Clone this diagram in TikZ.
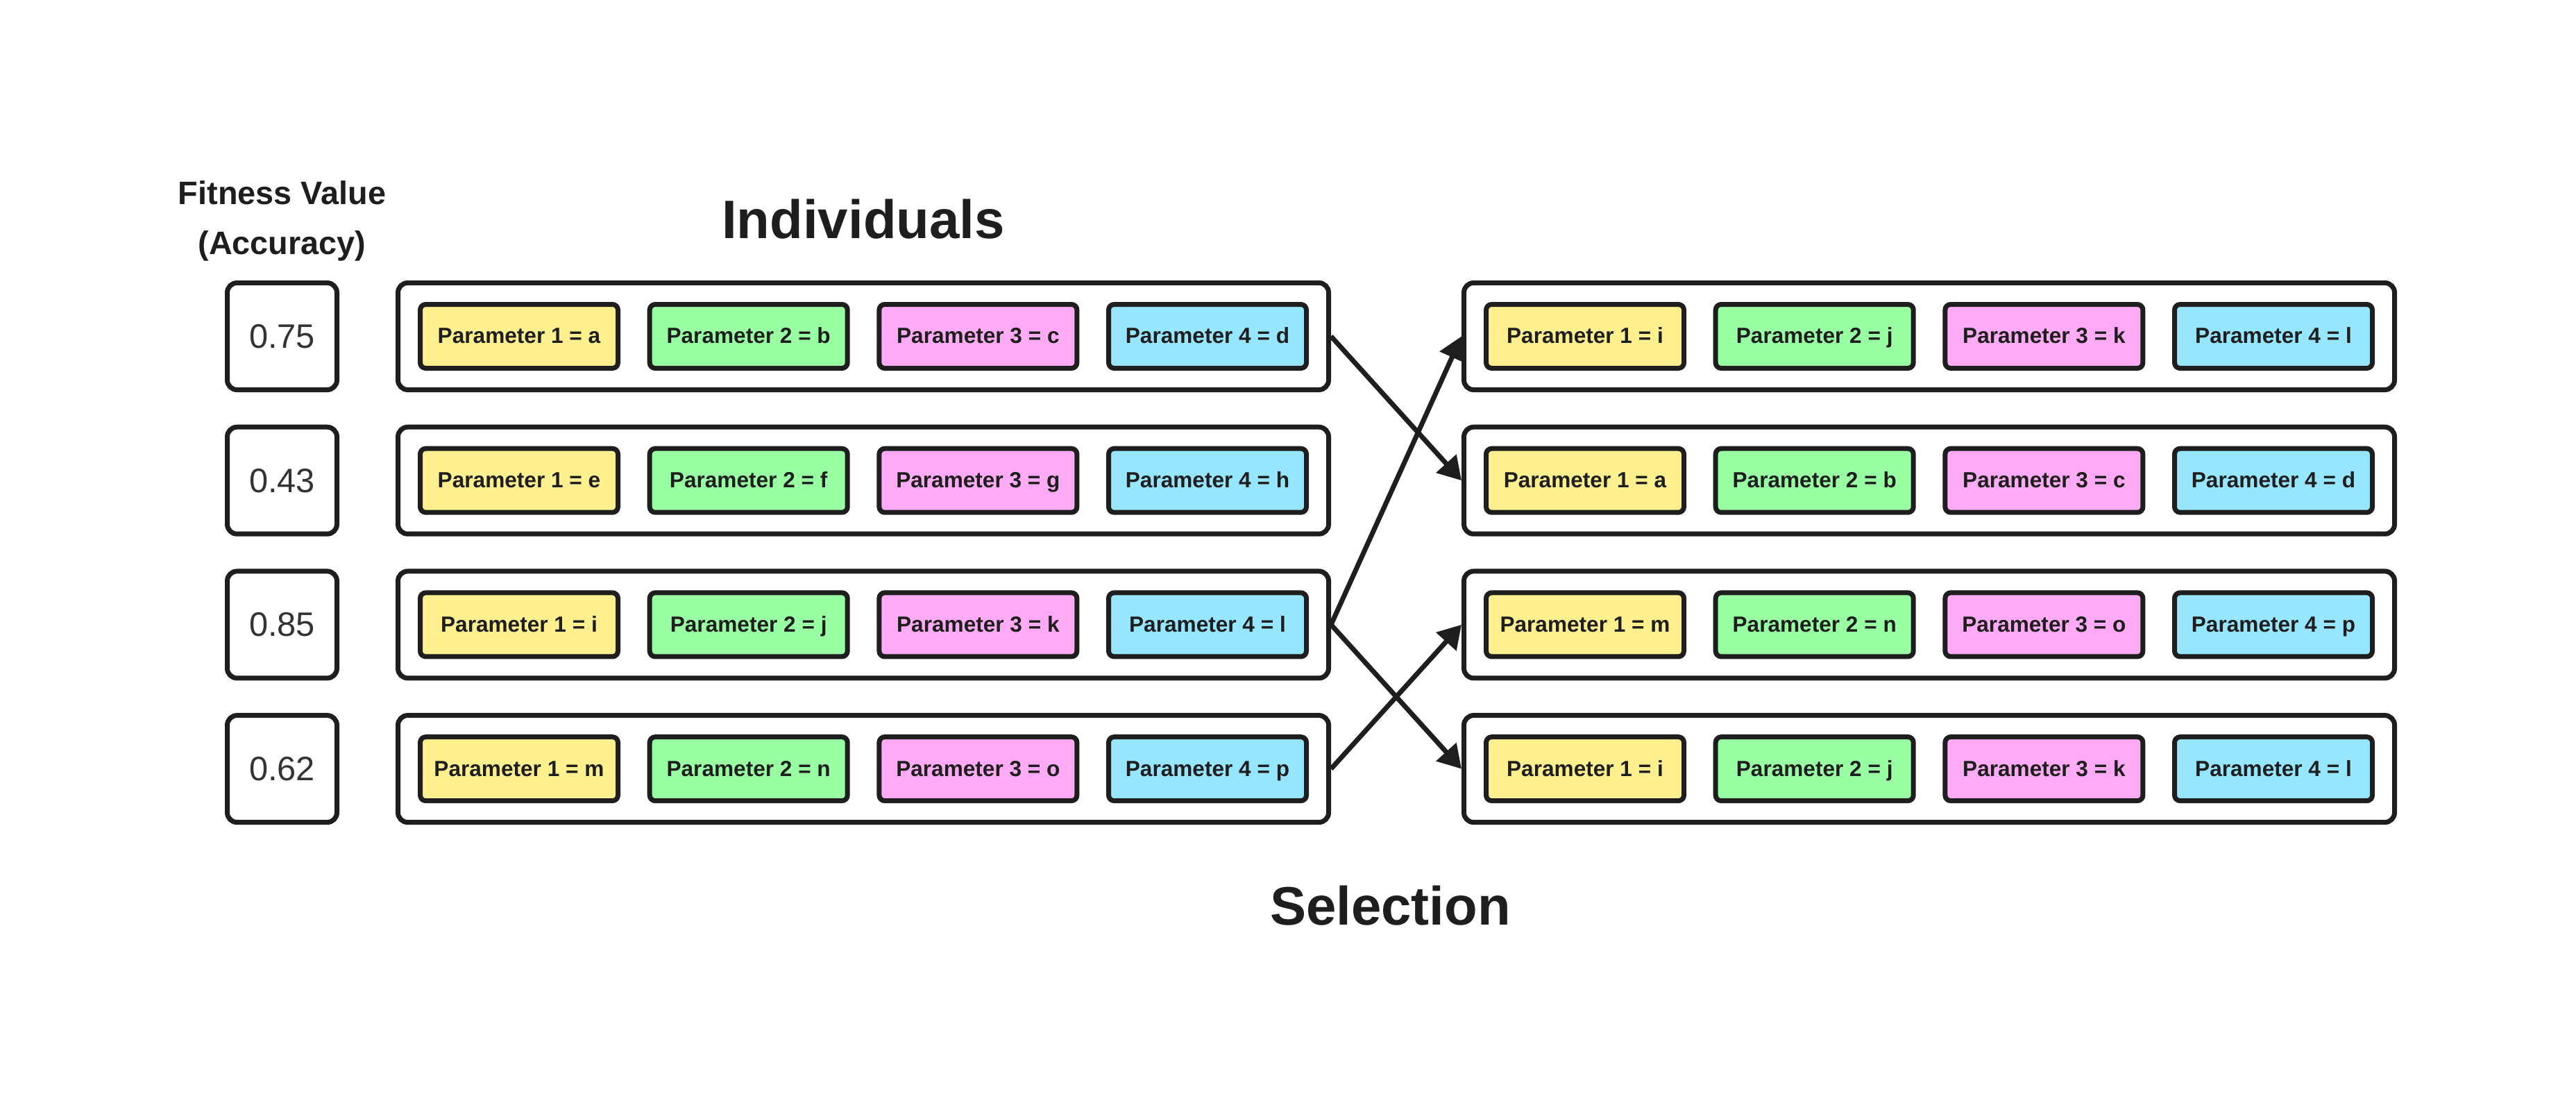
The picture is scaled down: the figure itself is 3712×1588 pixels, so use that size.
\documentclass[tikz,border=0pt]{standalone}
\usepackage{fontspec}
\setmainfont{Liberation Sans}
\usetikzlibrary{arrows.meta}
\definecolor{ink}{HTML}{1E1E1E}
\definecolor{numink}{HTML}{333333}
\definecolor{pyellow}{HTML}{FFF08F}
\definecolor{pgreen}{HTML}{99FFA3}
\definecolor{ppink}{HTML}{FFAAF5}
\definecolor{pblue}{HTML}{96E6FF}
\begin{document}
\begin{tikzpicture}[x=0.25pt,y=-0.25pt,
  box/.style={draw=ink, line width=1.75pt, inner sep=0pt},
  rowbox/.style={box, minimum width=335.25pt, minimum height=38.5pt, rounded corners=3.5pt, fill=white},
  fitbox/.style={box, minimum width=39.5pt, minimum height=38.5pt, rounded corners=3.5pt,
    font=\fontsize{12.2}{14}\selectfont, text=numink},
  parbox/.style={box, minimum width=71.25pt, minimum height=23pt, rounded corners=2pt,
    font=\fontsize{7.9}{9}\selectfont\bfseries, text=ink, text height=0.72em, text depth=0.2em},
  title/.style={font=\fontsize{19.5}{23}\selectfont\bfseries, text=ink, anchor=base, inner sep=0pt},
  fvtitle/.style={font=\fontsize{11.7}{14}\selectfont\bfseries, text=ink, anchor=base, inner sep=0pt},
  arr/.style={draw=ink, line width=1.75pt, -{Triangle[length=8.25pt,width=9.5pt]}}
]
\fill[white] (0,0) rectangle (3712,1588);
\useasboundingbox (0,0) rectangle (3712,1588);

\node[fvtitle] (fv1) at (406.5,294) {Fitness Value};
\node[fvtitle] (fv2) at (406.5,366) {(Accuracy)};
\node[title] (indiv) at (1244,343) {Individuals};
\node[title] (sel) at (2003.5,1332) {Selection};

% left: fitness values and individuals
\foreach \r/\yy/\fit/\va/\vb/\vc/\vd in {1/484.5/0.75/a/b/c/d, 2/692.2/0.43/e/f/g/h, 3/899.9/0.85/i/j/k/l, 4/1107.6/0.62/m/n/o/p} {
  \node[fitbox] (F\r) at (406.5,\yy) {\fit};
  \node[rowbox] (L\r) at (1244,\yy) {};
  \node[parbox, fill=pyellow] (L\r p1) at (748,\yy) {Parameter 1 = \va};
  \node[parbox, fill=pgreen]  (L\r p2) at (1078.7,\yy) {Parameter 2 = \vb};
  \node[parbox, fill=ppink]   (L\r p3) at (1409.4,\yy) {Parameter 3 = \vc};
  \node[parbox, fill=pblue]   (L\r p4) at (1740,\yy) {Parameter 4 = \vd};
}

% right: selected individuals
\foreach \r/\yy/\va/\vb/\vc/\vd in {1/484.5/i/j/k/l, 2/692.2/a/b/c/d, 3/899.9/m/n/o/p, 4/1107.6/i/j/k/l} {
  \node[rowbox] (R\r) at (2780,\yy) {};
  \node[parbox, fill=pyellow] (R\r p1) at (2284,\yy) {Parameter 1 = \va};
  \node[parbox, fill=pgreen]  (R\r p2) at (2614.7,\yy) {Parameter 2 = \vb};
  \node[parbox, fill=ppink]   (R\r p3) at (2945.4,\yy) {Parameter 3 = \vc};
  \node[parbox, fill=pblue]   (R\r p4) at (3276,\yy) {Parameter 4 = \vd};
}

\draw[arr] (L1.east) -- (R2.west);
\draw[arr] (L3.east) -- (R1.west);
\draw[arr] (L3.east) -- (R4.west);
\draw[arr] (L4.east) -- (R3.west);
\end{tikzpicture}
\end{document}
